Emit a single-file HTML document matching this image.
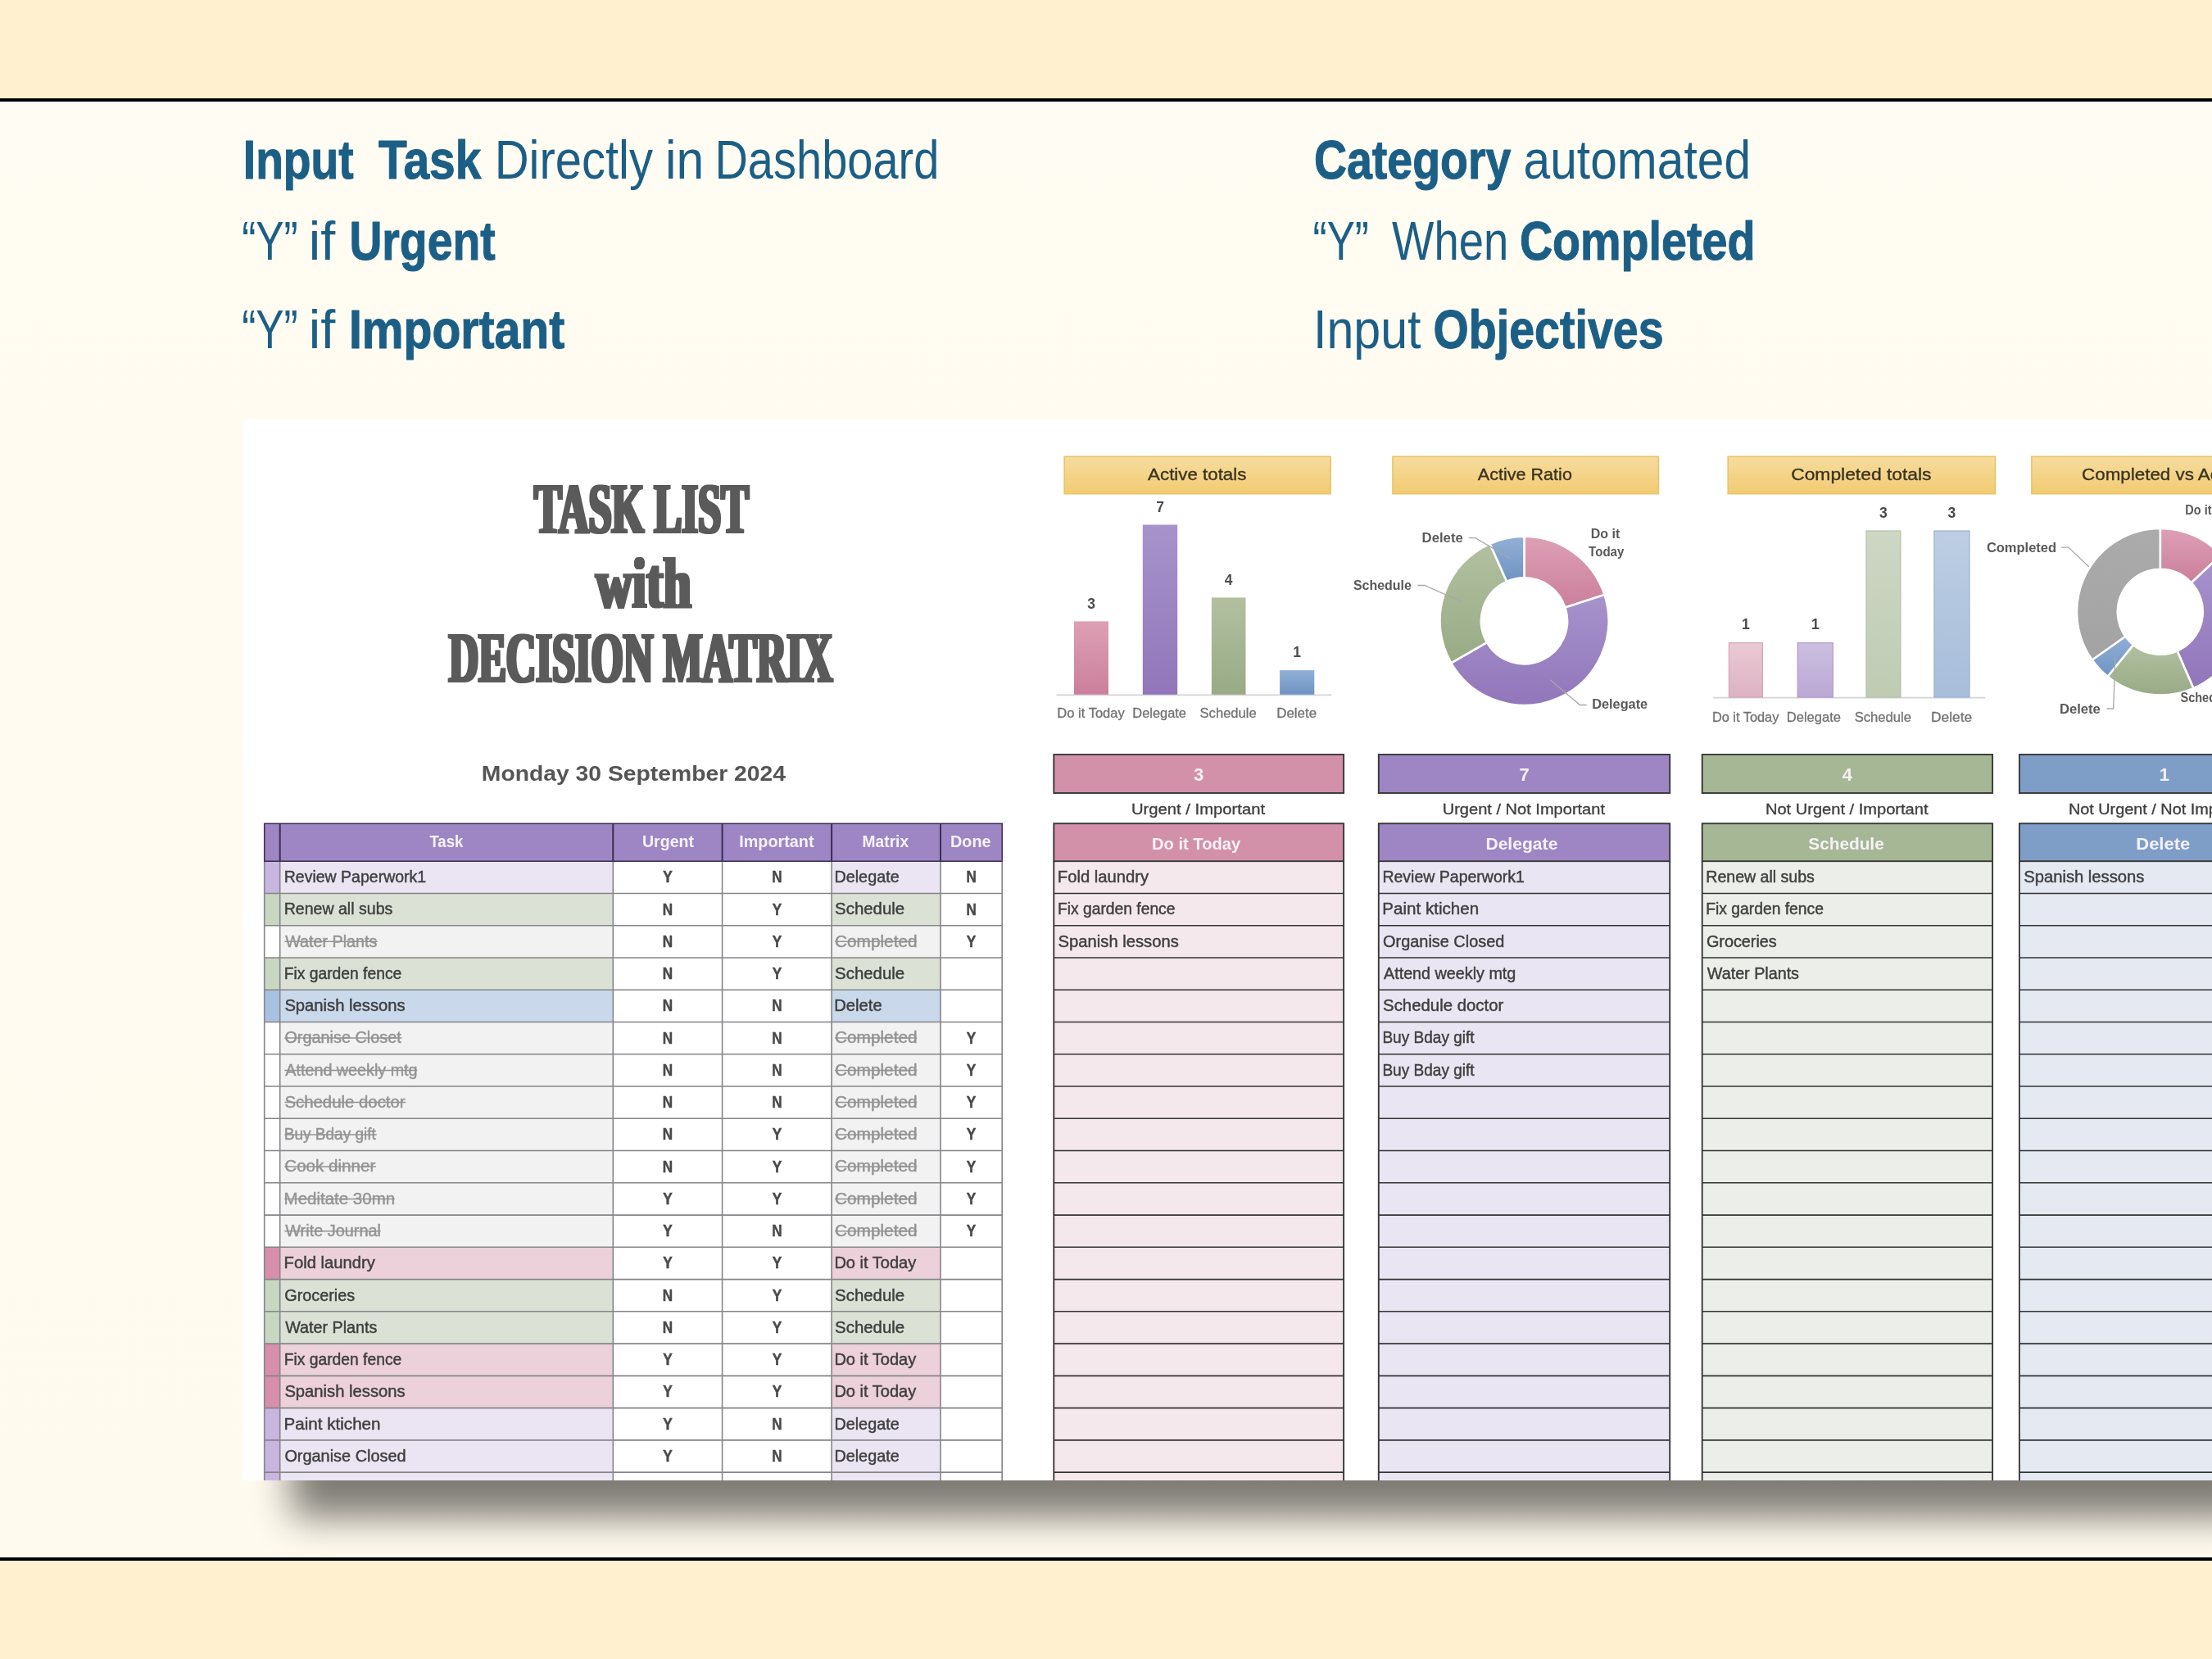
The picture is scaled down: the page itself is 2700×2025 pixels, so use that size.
<!DOCTYPE html>
<html lang="en"><head><meta charset="utf-8"><title>Task List with Decision Matrix</title>
<style>
html,body{margin:0;padding:0}
body{width:2700px;height:2025px;overflow:hidden;position:relative;background:#FFF1CF;font-family:"Liberation Sans",sans-serif}
.mid{position:absolute;left:0;top:120px;width:2700px;height:1785px;box-sizing:border-box;border-top:4px solid #000;border-bottom:4px solid #000;
background:linear-gradient(#FFFCF3,#FFFBF0 30%,#FFFAEE)}
.shclip{position:absolute;left:0;top:1807px;width:2700px;height:94px;overflow:hidden}
.shadow{position:absolute;left:356px;top:-400px;width:2600px;height:445px;background:rgba(0,0,0,.51);filter:blur(23px)}
.sheet{position:absolute;left:296px;top:512px;width:2404px;height:1295px;background:#fff;overflow:hidden}
svg{position:absolute;left:0;top:0;display:block}
.sheet svg{left:-296px;top:-512px;filter:blur(.65px)}
text{white-space:pre}
</style></head>
<body>
<div class="mid"></div>
<svg width="2700" height="2025" viewBox="0 0 2700 2025" xml:space="preserve">
<text x="296.8" y="217.5" font-family="Liberation Sans, sans-serif" font-size="66" font-weight="bold" fill="#1C5F86" text-anchor="start" textLength="134.8" lengthAdjust="spacingAndGlyphs" stroke="#1C5F86" stroke-width="1.1" stroke-linejoin="round">Input</text>
<text x="461.9" y="217.5" font-family="Liberation Sans, sans-serif" font-size="66" font-weight="bold" fill="#1C5F86" text-anchor="start" textLength="125.4" lengthAdjust="spacingAndGlyphs" stroke="#1C5F86" stroke-width="1.1" stroke-linejoin="round">Task</text>
<text x="603.7" y="217.5" font-family="Liberation Sans, sans-serif" font-size="66" fill="#1C5F86" text-anchor="start" textLength="193.3" lengthAdjust="spacingAndGlyphs" >Directly</text>
<text x="812.0" y="217.5" font-family="Liberation Sans, sans-serif" font-size="66" fill="#1C5F86" text-anchor="start" textLength="47.2" lengthAdjust="spacingAndGlyphs" >in</text>
<text x="872.4" y="217.5" font-family="Liberation Sans, sans-serif" font-size="66" fill="#1C5F86" text-anchor="start" textLength="274.0" lengthAdjust="spacingAndGlyphs" >Dashboard</text>
<text x="295.2" y="316.5" font-family="Liberation Sans, sans-serif" font-size="66" fill="#1C5F86" text-anchor="start" textLength="68.5" lengthAdjust="spacingAndGlyphs" >“Y”</text>
<text x="376.7" y="316.5" font-family="Liberation Sans, sans-serif" font-size="66" fill="#1C5F86" text-anchor="start" textLength="32.5" lengthAdjust="spacingAndGlyphs" >if</text>
<text x="426.4" y="316.5" font-family="Liberation Sans, sans-serif" font-size="66" font-weight="bold" fill="#1C5F86" text-anchor="start" textLength="178.2" lengthAdjust="spacingAndGlyphs" stroke="#1C5F86" stroke-width="1.1" stroke-linejoin="round">Urgent</text>
<text x="295.2" y="424.5" font-family="Liberation Sans, sans-serif" font-size="66" fill="#1C5F86" text-anchor="start" textLength="68.5" lengthAdjust="spacingAndGlyphs" >“Y”</text>
<text x="376.7" y="424.5" font-family="Liberation Sans, sans-serif" font-size="66" fill="#1C5F86" text-anchor="start" textLength="32.5" lengthAdjust="spacingAndGlyphs" >if</text>
<text x="425.9" y="424.5" font-family="Liberation Sans, sans-serif" font-size="66" font-weight="bold" fill="#1C5F86" text-anchor="start" textLength="263.3" lengthAdjust="spacingAndGlyphs" stroke="#1C5F86" stroke-width="1.1" stroke-linejoin="round">Important</text>
<text x="1604.0" y="217.8" font-family="Liberation Sans, sans-serif" font-size="66" font-weight="bold" fill="#1C5F86" text-anchor="start" textLength="240.3" lengthAdjust="spacingAndGlyphs" stroke="#1C5F86" stroke-width="1.1" stroke-linejoin="round">Category</text>
<text x="1859.5" y="217.8" font-family="Liberation Sans, sans-serif" font-size="66" fill="#1C5F86" text-anchor="start" textLength="277.6" lengthAdjust="spacingAndGlyphs" >automated</text>
<text x="1602.6" y="317.0" font-family="Liberation Sans, sans-serif" font-size="66" fill="#1C5F86" text-anchor="start" textLength="68.3" lengthAdjust="spacingAndGlyphs" >“Y”</text>
<text x="1699.1" y="317.0" font-family="Liberation Sans, sans-serif" font-size="66" fill="#1C5F86" text-anchor="start" textLength="142.1" lengthAdjust="spacingAndGlyphs" >When</text>
<text x="1854.9" y="317.0" font-family="Liberation Sans, sans-serif" font-size="66" font-weight="bold" fill="#1C5F86" text-anchor="start" textLength="287.6" lengthAdjust="spacingAndGlyphs" stroke="#1C5F86" stroke-width="1.1" stroke-linejoin="round">Completed</text>
<text x="1603.1" y="424.5" font-family="Liberation Sans, sans-serif" font-size="66" fill="#1C5F86" text-anchor="start" textLength="131.4" lengthAdjust="spacingAndGlyphs" >Input</text>
<text x="1749.6" y="424.5" font-family="Liberation Sans, sans-serif" font-size="66" font-weight="bold" fill="#1C5F86" text-anchor="start" textLength="281.0" lengthAdjust="spacingAndGlyphs" stroke="#1C5F86" stroke-width="1.1" stroke-linejoin="round">Objectives</text>
</svg>
<div class="shclip"><div class="shadow"></div></div>
<div class="sheet">
<svg width="2700" height="2025" viewBox="0 0 2700 2025" xml:space="preserve">
<defs>
<linearGradient id="gY" x1="0" y1="0" x2="0" y2="1"><stop offset="0" stop-color="#F6DC9F"/><stop offset="1" stop-color="#F2CB72"/></linearGradient>
<linearGradient id="gP" x1="0" y1="0" x2="0" y2="1"><stop offset="0" stop-color="#DDA0B5"/><stop offset="1" stop-color="#CB7F9B"/></linearGradient>
<linearGradient id="gU" x1="0" y1="0" x2="0" y2="1"><stop offset="0" stop-color="#A793CC"/><stop offset="1" stop-color="#9176BA"/></linearGradient>
<linearGradient id="gG" x1="0" y1="0" x2="0" y2="1"><stop offset="0" stop-color="#B2C0A0"/><stop offset="1" stop-color="#98AB85"/></linearGradient>
<linearGradient id="gB" x1="0" y1="0" x2="0" y2="1"><stop offset="0" stop-color="#92B0D6"/><stop offset="1" stop-color="#6E93C3"/></linearGradient>
<linearGradient id="gGr" x1="0" y1="0" x2="0" y2="1"><stop offset="0" stop-color="#ABABAB"/><stop offset="1" stop-color="#A3A3A3"/></linearGradient>
<linearGradient id="lP" x1="0" y1="0" x2="0" y2="1"><stop offset="0" stop-color="#E9CAD5"/><stop offset="1" stop-color="#DEB2C2"/></linearGradient>
<linearGradient id="lU" x1="0" y1="0" x2="0" y2="1"><stop offset="0" stop-color="#CCBFE0"/><stop offset="1" stop-color="#BBA8D5"/></linearGradient>
<linearGradient id="lG" x1="0" y1="0" x2="0" y2="1"><stop offset="0" stop-color="#CED7C4"/><stop offset="1" stop-color="#BFCBB3"/></linearGradient>
<linearGradient id="lB" x1="0" y1="0" x2="0" y2="1"><stop offset="0" stop-color="#BDCEE4"/><stop offset="1" stop-color="#A7BDDA"/></linearGradient>
<filter id="fat" x="-5%" y="-20%" width="110%" height="140%"><feMorphology operator="dilate" radius="2 1"/></filter>
</defs>
<text x="651.9" y="650.0" font-family="Liberation Serif, serif" font-size="87" font-weight="bold" fill="#5A5A5A" text-anchor="start" textLength="262.0" lengthAdjust="spacingAndGlyphs" filter="url(#fat)">TASK LIST</text>
<text x="727.2" y="740.5" font-family="Liberation Serif, serif" font-size="87" font-weight="bold" fill="#5A5A5A" text-anchor="start" textLength="116.7" lengthAdjust="spacingAndGlyphs" filter="url(#fat)">with</text>
<text x="547.8" y="832.3" font-family="Liberation Serif, serif" font-size="87" font-weight="bold" fill="#5A5A5A" text-anchor="start" textLength="468.5" lengthAdjust="spacingAndGlyphs" filter="url(#fat)">DECISION MATRIX</text>
<text x="587.8" y="953.4" font-family="Liberation Sans, sans-serif" font-size="25.8" font-weight="bold" fill="#555555" text-anchor="start" textLength="371.3" lengthAdjust="spacingAndGlyphs" >Monday 30 September 2024</text>
<rect x="322.7" y="1051.2" width="19.0" height="39.3" fill="#C6B6E0" />
<rect x="341.7" y="1051.2" width="406.6" height="39.3" fill="#EBE5F3" />
<rect x="1015.1" y="1051.2" width="132.9" height="39.3" fill="#EBE5F3" />
<rect x="322.7" y="1090.5" width="19.0" height="39.3" fill="#C9D6C0" />
<rect x="341.7" y="1090.5" width="406.6" height="39.3" fill="#DBE2D5" />
<rect x="1015.1" y="1090.5" width="132.9" height="39.3" fill="#DBE2D5" />
<rect x="322.7" y="1129.7" width="19.0" height="39.3" fill="#FFFFFF" />
<rect x="341.7" y="1129.7" width="406.6" height="39.3" fill="#F2F2F2" />
<rect x="1015.1" y="1129.7" width="132.9" height="39.3" fill="#F2F2F2" />
<rect x="322.7" y="1169.0" width="19.0" height="39.3" fill="#C9D6C0" />
<rect x="341.7" y="1169.0" width="406.6" height="39.3" fill="#DBE2D5" />
<rect x="1015.1" y="1169.0" width="132.9" height="39.3" fill="#DBE2D5" />
<rect x="322.7" y="1208.2" width="19.0" height="39.3" fill="#A9C2E1" />
<rect x="341.7" y="1208.2" width="406.6" height="39.3" fill="#C9D8EA" />
<rect x="1015.1" y="1208.2" width="132.9" height="39.3" fill="#C9D8EA" />
<rect x="322.7" y="1247.5" width="19.0" height="39.3" fill="#FFFFFF" />
<rect x="341.7" y="1247.5" width="406.6" height="39.3" fill="#F2F2F2" />
<rect x="1015.1" y="1247.5" width="132.9" height="39.3" fill="#F2F2F2" />
<rect x="322.7" y="1286.8" width="19.0" height="39.3" fill="#FFFFFF" />
<rect x="341.7" y="1286.8" width="406.6" height="39.3" fill="#F2F2F2" />
<rect x="1015.1" y="1286.8" width="132.9" height="39.3" fill="#F2F2F2" />
<rect x="322.7" y="1326.0" width="19.0" height="39.3" fill="#FFFFFF" />
<rect x="341.7" y="1326.0" width="406.6" height="39.3" fill="#F2F2F2" />
<rect x="1015.1" y="1326.0" width="132.9" height="39.3" fill="#F2F2F2" />
<rect x="322.7" y="1365.3" width="19.0" height="39.3" fill="#FFFFFF" />
<rect x="341.7" y="1365.3" width="406.6" height="39.3" fill="#F2F2F2" />
<rect x="1015.1" y="1365.3" width="132.9" height="39.3" fill="#F2F2F2" />
<rect x="322.7" y="1404.5" width="19.0" height="39.3" fill="#FFFFFF" />
<rect x="341.7" y="1404.5" width="406.6" height="39.3" fill="#F2F2F2" />
<rect x="1015.1" y="1404.5" width="132.9" height="39.3" fill="#F2F2F2" />
<rect x="322.7" y="1443.8" width="19.0" height="39.3" fill="#FFFFFF" />
<rect x="341.7" y="1443.8" width="406.6" height="39.3" fill="#F2F2F2" />
<rect x="1015.1" y="1443.8" width="132.9" height="39.3" fill="#F2F2F2" />
<rect x="322.7" y="1483.1" width="19.0" height="39.3" fill="#FFFFFF" />
<rect x="341.7" y="1483.1" width="406.6" height="39.3" fill="#F2F2F2" />
<rect x="1015.1" y="1483.1" width="132.9" height="39.3" fill="#F2F2F2" />
<rect x="322.7" y="1522.3" width="19.0" height="39.3" fill="#D88FA9" />
<rect x="341.7" y="1522.3" width="406.6" height="39.3" fill="#ECD0DA" />
<rect x="1015.1" y="1522.3" width="132.9" height="39.3" fill="#ECD0DA" />
<rect x="322.7" y="1561.6" width="19.0" height="39.3" fill="#C9D6C0" />
<rect x="341.7" y="1561.6" width="406.6" height="39.3" fill="#DBE2D5" />
<rect x="1015.1" y="1561.6" width="132.9" height="39.3" fill="#DBE2D5" />
<rect x="322.7" y="1600.8" width="19.0" height="39.3" fill="#C9D6C0" />
<rect x="341.7" y="1600.8" width="406.6" height="39.3" fill="#DBE2D5" />
<rect x="1015.1" y="1600.8" width="132.9" height="39.3" fill="#DBE2D5" />
<rect x="322.7" y="1640.1" width="19.0" height="39.3" fill="#D88FA9" />
<rect x="341.7" y="1640.1" width="406.6" height="39.3" fill="#ECD0DA" />
<rect x="1015.1" y="1640.1" width="132.9" height="39.3" fill="#ECD0DA" />
<rect x="322.7" y="1679.4" width="19.0" height="39.3" fill="#D88FA9" />
<rect x="341.7" y="1679.4" width="406.6" height="39.3" fill="#ECD0DA" />
<rect x="1015.1" y="1679.4" width="132.9" height="39.3" fill="#ECD0DA" />
<rect x="322.7" y="1718.6" width="19.0" height="39.3" fill="#C6B6E0" />
<rect x="341.7" y="1718.6" width="406.6" height="39.3" fill="#EBE5F3" />
<rect x="1015.1" y="1718.6" width="132.9" height="39.3" fill="#EBE5F3" />
<rect x="322.7" y="1757.9" width="19.0" height="39.3" fill="#C6B6E0" />
<rect x="341.7" y="1757.9" width="406.6" height="39.3" fill="#EBE5F3" />
<rect x="1015.1" y="1757.9" width="132.9" height="39.3" fill="#EBE5F3" />
<rect x="322.7" y="1797.1" width="19.0" height="39.3" fill="#C6B6E0" />
<rect x="341.7" y="1797.1" width="406.6" height="39.3" fill="#EBE5F3" />
<rect x="1015.1" y="1797.1" width="132.9" height="39.3" fill="#EBE5F3" />
<rect x="322.7" y="1836.4" width="19.0" height="39.3" fill="#C6B6E0" />
<rect x="341.7" y="1836.4" width="406.6" height="39.3" fill="#EBE5F3" />
<rect x="1015.1" y="1836.4" width="132.9" height="39.3" fill="#EBE5F3" />
<line x1="322.7" y1="1051.2" x2="1223.2" y2="1051.2" stroke="#85858A" stroke-width="1.6" />
<line x1="322.7" y1="1090.5" x2="1223.2" y2="1090.5" stroke="#85858A" stroke-width="1.6" />
<line x1="322.7" y1="1129.7" x2="1223.2" y2="1129.7" stroke="#85858A" stroke-width="1.6" />
<line x1="322.7" y1="1169.0" x2="1223.2" y2="1169.0" stroke="#85858A" stroke-width="1.6" />
<line x1="322.7" y1="1208.2" x2="1223.2" y2="1208.2" stroke="#85858A" stroke-width="1.6" />
<line x1="322.7" y1="1247.5" x2="1223.2" y2="1247.5" stroke="#85858A" stroke-width="1.6" />
<line x1="322.7" y1="1286.8" x2="1223.2" y2="1286.8" stroke="#85858A" stroke-width="1.6" />
<line x1="322.7" y1="1326.0" x2="1223.2" y2="1326.0" stroke="#85858A" stroke-width="1.6" />
<line x1="322.7" y1="1365.3" x2="1223.2" y2="1365.3" stroke="#85858A" stroke-width="1.6" />
<line x1="322.7" y1="1404.5" x2="1223.2" y2="1404.5" stroke="#85858A" stroke-width="1.6" />
<line x1="322.7" y1="1443.8" x2="1223.2" y2="1443.8" stroke="#85858A" stroke-width="1.6" />
<line x1="322.7" y1="1483.1" x2="1223.2" y2="1483.1" stroke="#85858A" stroke-width="1.6" />
<line x1="322.7" y1="1522.3" x2="1223.2" y2="1522.3" stroke="#85858A" stroke-width="1.6" />
<line x1="322.7" y1="1561.6" x2="1223.2" y2="1561.6" stroke="#85858A" stroke-width="1.6" />
<line x1="322.7" y1="1600.8" x2="1223.2" y2="1600.8" stroke="#85858A" stroke-width="1.6" />
<line x1="322.7" y1="1640.1" x2="1223.2" y2="1640.1" stroke="#85858A" stroke-width="1.6" />
<line x1="322.7" y1="1679.4" x2="1223.2" y2="1679.4" stroke="#85858A" stroke-width="1.6" />
<line x1="322.7" y1="1718.6" x2="1223.2" y2="1718.6" stroke="#85858A" stroke-width="1.6" />
<line x1="322.7" y1="1757.9" x2="1223.2" y2="1757.9" stroke="#85858A" stroke-width="1.6" />
<line x1="322.7" y1="1797.1" x2="1223.2" y2="1797.1" stroke="#85858A" stroke-width="1.6" />
<line x1="322.7" y1="1836.4" x2="1223.2" y2="1836.4" stroke="#85858A" stroke-width="1.6" />
<line x1="322.7" y1="1875.7" x2="1223.2" y2="1875.7" stroke="#85858A" stroke-width="1.6" />
<line x1="322.7" y1="1051.2" x2="322.7" y2="1875.7" stroke="#85858A" stroke-width="1.6" />
<line x1="341.7" y1="1051.2" x2="341.7" y2="1875.7" stroke="#85858A" stroke-width="1.6" />
<line x1="748.3" y1="1051.2" x2="748.3" y2="1875.7" stroke="#85858A" stroke-width="1.6" />
<line x1="881.6" y1="1051.2" x2="881.6" y2="1875.7" stroke="#85858A" stroke-width="1.6" />
<line x1="1015.1" y1="1051.2" x2="1015.1" y2="1875.7" stroke="#85858A" stroke-width="1.6" />
<line x1="1148.0" y1="1051.2" x2="1148.0" y2="1875.7" stroke="#85858A" stroke-width="1.6" />
<line x1="1223.2" y1="1051.2" x2="1223.2" y2="1875.7" stroke="#85858A" stroke-width="1.6" />
<rect x="322.7" y="1005.3" width="900.5" height="45.9" fill="#9E86C4" stroke="#3A2C55" stroke-width="1.5" />
<line x1="341.7" y1="1005.3" x2="341.7" y2="1051.2" stroke="#3A2C55" stroke-width="2.0" />
<line x1="748.3" y1="1005.3" x2="748.3" y2="1051.2" stroke="#3A2C55" stroke-width="2.0" />
<line x1="881.6" y1="1005.3" x2="881.6" y2="1051.2" stroke="#3A2C55" stroke-width="2.0" />
<line x1="1015.1" y1="1005.3" x2="1015.1" y2="1051.2" stroke="#3A2C55" stroke-width="2.0" />
<line x1="1148.0" y1="1005.3" x2="1148.0" y2="1051.2" stroke="#3A2C55" stroke-width="2.0" />
<text x="524.4" y="1034.2" font-family="Liberation Sans, sans-serif" font-size="20" font-weight="bold" fill="#F6F2FB" text-anchor="start" textLength="41.0" lengthAdjust="spacingAndGlyphs" >Task</text>
<text x="784.0" y="1034.2" font-family="Liberation Sans, sans-serif" font-size="20" font-weight="bold" fill="#F6F2FB" text-anchor="start" textLength="63.0" lengthAdjust="spacingAndGlyphs" >Urgent</text>
<text x="902.2" y="1034.2" font-family="Liberation Sans, sans-serif" font-size="20" font-weight="bold" fill="#F6F2FB" text-anchor="start" textLength="91.3" lengthAdjust="spacingAndGlyphs" >Important</text>
<text x="1052.6" y="1034.2" font-family="Liberation Sans, sans-serif" font-size="20" font-weight="bold" fill="#F6F2FB" text-anchor="start" textLength="56.5" lengthAdjust="spacingAndGlyphs" >Matrix</text>
<text x="1160.1" y="1034.2" font-family="Liberation Sans, sans-serif" font-size="20" font-weight="bold" fill="#F6F2FB" text-anchor="start" textLength="49.4" lengthAdjust="spacingAndGlyphs" >Done</text>
<text x="346.7" y="1077.1" font-family="Liberation Sans, sans-serif" font-size="20" fill="#3F3F3F" text-anchor="start" textLength="173.5" lengthAdjust="spacingAndGlyphs" stroke="#3F3F3F" stroke-width="0.45">Review Paperwork1</text>
<text x="815.0" y="1077.2" font-family="Liberation Sans, sans-serif" font-size="20" font-weight="bold" fill="#4A4A4A" text-anchor="middle" textLength="11.5" lengthAdjust="spacingAndGlyphs" stroke="#4A4A4A" stroke-width="0.5">Y</text>
<text x="948.4" y="1077.2" font-family="Liberation Sans, sans-serif" font-size="20" font-weight="bold" fill="#4A4A4A" text-anchor="middle" textLength="12.4" lengthAdjust="spacingAndGlyphs" stroke="#4A4A4A" stroke-width="0.5">N</text>
<text x="1018.4" y="1077.1" font-family="Liberation Sans, sans-serif" font-size="20" fill="#3F3F3F" text-anchor="start" textLength="79.3" lengthAdjust="spacingAndGlyphs" stroke="#3F3F3F" stroke-width="0.45">Delegate</text>
<text x="1185.6" y="1077.2" font-family="Liberation Sans, sans-serif" font-size="20" font-weight="bold" fill="#4A4A4A" text-anchor="middle" textLength="12.4" lengthAdjust="spacingAndGlyphs" stroke="#4A4A4A" stroke-width="0.5">N</text>
<text x="346.7" y="1116.4" font-family="Liberation Sans, sans-serif" font-size="20" fill="#3F3F3F" text-anchor="start" textLength="132.6" lengthAdjust="spacingAndGlyphs" stroke="#3F3F3F" stroke-width="0.45">Renew all subs</text>
<text x="815.0" y="1116.5" font-family="Liberation Sans, sans-serif" font-size="20" font-weight="bold" fill="#4A4A4A" text-anchor="middle" textLength="12.4" lengthAdjust="spacingAndGlyphs" stroke="#4A4A4A" stroke-width="0.5">N</text>
<text x="948.4" y="1116.5" font-family="Liberation Sans, sans-serif" font-size="20" font-weight="bold" fill="#4A4A4A" text-anchor="middle" textLength="11.5" lengthAdjust="spacingAndGlyphs" stroke="#4A4A4A" stroke-width="0.5">Y</text>
<text x="1019.1" y="1116.4" font-family="Liberation Sans, sans-serif" font-size="20" fill="#3F3F3F" text-anchor="start" textLength="85.1" lengthAdjust="spacingAndGlyphs" stroke="#3F3F3F" stroke-width="0.45">Schedule</text>
<text x="1185.6" y="1116.5" font-family="Liberation Sans, sans-serif" font-size="20" font-weight="bold" fill="#4A4A4A" text-anchor="middle" textLength="12.4" lengthAdjust="spacingAndGlyphs" stroke="#4A4A4A" stroke-width="0.5">N</text>
<text x="348.2" y="1155.6" font-family="Liberation Sans, sans-serif" font-size="20" fill="#939393" text-anchor="start" textLength="112.2" lengthAdjust="spacingAndGlyphs" stroke="#939393" stroke-width="0.45">Water Plants</text>
<line x1="347.3" y1="1149.3" x2="460.7" y2="1149.3" stroke="#939393" stroke-width="1.5" />
<text x="815.0" y="1155.7" font-family="Liberation Sans, sans-serif" font-size="20" font-weight="bold" fill="#4A4A4A" text-anchor="middle" textLength="12.4" lengthAdjust="spacingAndGlyphs" stroke="#4A4A4A" stroke-width="0.5">N</text>
<text x="948.4" y="1155.7" font-family="Liberation Sans, sans-serif" font-size="20" font-weight="bold" fill="#4A4A4A" text-anchor="middle" textLength="11.5" lengthAdjust="spacingAndGlyphs" stroke="#4A4A4A" stroke-width="0.5">Y</text>
<text x="1019.0" y="1155.6" font-family="Liberation Sans, sans-serif" font-size="20" fill="#939393" text-anchor="start" textLength="100.6" lengthAdjust="spacingAndGlyphs" stroke="#939393" stroke-width="0.45">Completed</text>
<line x1="1019.0" y1="1149.3" x2="1119.2" y2="1149.3" stroke="#939393" stroke-width="1.5" />
<text x="1185.6" y="1155.7" font-family="Liberation Sans, sans-serif" font-size="20" font-weight="bold" fill="#4A4A4A" text-anchor="middle" textLength="11.5" lengthAdjust="spacingAndGlyphs" stroke="#4A4A4A" stroke-width="0.5">Y</text>
<text x="346.7" y="1194.9" font-family="Liberation Sans, sans-serif" font-size="20" fill="#3F3F3F" text-anchor="start" textLength="143.6" lengthAdjust="spacingAndGlyphs" stroke="#3F3F3F" stroke-width="0.45">Fix garden fence</text>
<text x="815.0" y="1195.0" font-family="Liberation Sans, sans-serif" font-size="20" font-weight="bold" fill="#4A4A4A" text-anchor="middle" textLength="12.4" lengthAdjust="spacingAndGlyphs" stroke="#4A4A4A" stroke-width="0.5">N</text>
<text x="948.4" y="1195.0" font-family="Liberation Sans, sans-serif" font-size="20" font-weight="bold" fill="#4A4A4A" text-anchor="middle" textLength="11.5" lengthAdjust="spacingAndGlyphs" stroke="#4A4A4A" stroke-width="0.5">Y</text>
<text x="1019.1" y="1194.9" font-family="Liberation Sans, sans-serif" font-size="20" fill="#3F3F3F" text-anchor="start" textLength="85.1" lengthAdjust="spacingAndGlyphs" stroke="#3F3F3F" stroke-width="0.45">Schedule</text>
<text x="347.4" y="1234.1" font-family="Liberation Sans, sans-serif" font-size="20" fill="#3F3F3F" text-anchor="start" textLength="147.2" lengthAdjust="spacingAndGlyphs" stroke="#3F3F3F" stroke-width="0.45">Spanish lessons</text>
<text x="815.0" y="1234.2" font-family="Liberation Sans, sans-serif" font-size="20" font-weight="bold" fill="#4A4A4A" text-anchor="middle" textLength="12.4" lengthAdjust="spacingAndGlyphs" stroke="#4A4A4A" stroke-width="0.5">N</text>
<text x="948.4" y="1234.2" font-family="Liberation Sans, sans-serif" font-size="20" font-weight="bold" fill="#4A4A4A" text-anchor="middle" textLength="12.4" lengthAdjust="spacingAndGlyphs" stroke="#4A4A4A" stroke-width="0.5">N</text>
<text x="1018.3" y="1234.1" font-family="Liberation Sans, sans-serif" font-size="20" fill="#3F3F3F" text-anchor="start" textLength="58.3" lengthAdjust="spacingAndGlyphs" stroke="#3F3F3F" stroke-width="0.45">Delete</text>
<text x="347.4" y="1273.4" font-family="Liberation Sans, sans-serif" font-size="20" fill="#939393" text-anchor="start" textLength="142.3" lengthAdjust="spacingAndGlyphs" stroke="#939393" stroke-width="0.45">Organise Closet</text>
<line x1="347.3" y1="1267.1" x2="490.5" y2="1267.1" stroke="#939393" stroke-width="1.5" />
<text x="815.0" y="1273.5" font-family="Liberation Sans, sans-serif" font-size="20" font-weight="bold" fill="#4A4A4A" text-anchor="middle" textLength="12.4" lengthAdjust="spacingAndGlyphs" stroke="#4A4A4A" stroke-width="0.5">N</text>
<text x="948.4" y="1273.5" font-family="Liberation Sans, sans-serif" font-size="20" font-weight="bold" fill="#4A4A4A" text-anchor="middle" textLength="12.4" lengthAdjust="spacingAndGlyphs" stroke="#4A4A4A" stroke-width="0.5">N</text>
<text x="1019.0" y="1273.4" font-family="Liberation Sans, sans-serif" font-size="20" fill="#939393" text-anchor="start" textLength="100.6" lengthAdjust="spacingAndGlyphs" stroke="#939393" stroke-width="0.45">Completed</text>
<line x1="1019.0" y1="1267.1" x2="1119.2" y2="1267.1" stroke="#939393" stroke-width="1.5" />
<text x="1185.6" y="1273.5" font-family="Liberation Sans, sans-serif" font-size="20" font-weight="bold" fill="#4A4A4A" text-anchor="middle" textLength="11.5" lengthAdjust="spacingAndGlyphs" stroke="#4A4A4A" stroke-width="0.5">Y</text>
<text x="348.3" y="1312.7" font-family="Liberation Sans, sans-serif" font-size="20" fill="#939393" text-anchor="start" textLength="161.3" lengthAdjust="spacingAndGlyphs" stroke="#939393" stroke-width="0.45">Attend weekly mtg</text>
<line x1="347.3" y1="1306.4" x2="509.3" y2="1306.4" stroke="#939393" stroke-width="1.5" />
<text x="815.0" y="1312.8" font-family="Liberation Sans, sans-serif" font-size="20" font-weight="bold" fill="#4A4A4A" text-anchor="middle" textLength="12.4" lengthAdjust="spacingAndGlyphs" stroke="#4A4A4A" stroke-width="0.5">N</text>
<text x="948.4" y="1312.8" font-family="Liberation Sans, sans-serif" font-size="20" font-weight="bold" fill="#4A4A4A" text-anchor="middle" textLength="12.4" lengthAdjust="spacingAndGlyphs" stroke="#4A4A4A" stroke-width="0.5">N</text>
<text x="1019.0" y="1312.7" font-family="Liberation Sans, sans-serif" font-size="20" fill="#939393" text-anchor="start" textLength="100.6" lengthAdjust="spacingAndGlyphs" stroke="#939393" stroke-width="0.45">Completed</text>
<line x1="1019.0" y1="1306.4" x2="1119.2" y2="1306.4" stroke="#939393" stroke-width="1.5" />
<text x="1185.6" y="1312.8" font-family="Liberation Sans, sans-serif" font-size="20" font-weight="bold" fill="#4A4A4A" text-anchor="middle" textLength="11.5" lengthAdjust="spacingAndGlyphs" stroke="#4A4A4A" stroke-width="0.5">Y</text>
<text x="347.4" y="1351.9" font-family="Liberation Sans, sans-serif" font-size="20" fill="#939393" text-anchor="start" textLength="147.2" lengthAdjust="spacingAndGlyphs" stroke="#939393" stroke-width="0.45">Schedule doctor</text>
<line x1="347.3" y1="1345.6" x2="495.3" y2="1345.6" stroke="#939393" stroke-width="1.5" />
<text x="815.0" y="1352.0" font-family="Liberation Sans, sans-serif" font-size="20" font-weight="bold" fill="#4A4A4A" text-anchor="middle" textLength="12.4" lengthAdjust="spacingAndGlyphs" stroke="#4A4A4A" stroke-width="0.5">N</text>
<text x="948.4" y="1352.0" font-family="Liberation Sans, sans-serif" font-size="20" font-weight="bold" fill="#4A4A4A" text-anchor="middle" textLength="12.4" lengthAdjust="spacingAndGlyphs" stroke="#4A4A4A" stroke-width="0.5">N</text>
<text x="1019.0" y="1351.9" font-family="Liberation Sans, sans-serif" font-size="20" fill="#939393" text-anchor="start" textLength="100.6" lengthAdjust="spacingAndGlyphs" stroke="#939393" stroke-width="0.45">Completed</text>
<line x1="1019.0" y1="1345.6" x2="1119.2" y2="1345.6" stroke="#939393" stroke-width="1.5" />
<text x="1185.6" y="1352.0" font-family="Liberation Sans, sans-serif" font-size="20" font-weight="bold" fill="#4A4A4A" text-anchor="middle" textLength="11.5" lengthAdjust="spacingAndGlyphs" stroke="#4A4A4A" stroke-width="0.5">Y</text>
<text x="346.7" y="1391.2" font-family="Liberation Sans, sans-serif" font-size="20" fill="#939393" text-anchor="start" textLength="112.2" lengthAdjust="spacingAndGlyphs" stroke="#939393" stroke-width="0.45">Buy Bday gift</text>
<line x1="347.3" y1="1384.9" x2="459.8" y2="1384.9" stroke="#939393" stroke-width="1.5" />
<text x="815.0" y="1391.3" font-family="Liberation Sans, sans-serif" font-size="20" font-weight="bold" fill="#4A4A4A" text-anchor="middle" textLength="12.4" lengthAdjust="spacingAndGlyphs" stroke="#4A4A4A" stroke-width="0.5">N</text>
<text x="948.4" y="1391.3" font-family="Liberation Sans, sans-serif" font-size="20" font-weight="bold" fill="#4A4A4A" text-anchor="middle" textLength="11.5" lengthAdjust="spacingAndGlyphs" stroke="#4A4A4A" stroke-width="0.5">Y</text>
<text x="1019.0" y="1391.2" font-family="Liberation Sans, sans-serif" font-size="20" fill="#939393" text-anchor="start" textLength="100.6" lengthAdjust="spacingAndGlyphs" stroke="#939393" stroke-width="0.45">Completed</text>
<line x1="1019.0" y1="1384.9" x2="1119.2" y2="1384.9" stroke="#939393" stroke-width="1.5" />
<text x="1185.6" y="1391.3" font-family="Liberation Sans, sans-serif" font-size="20" font-weight="bold" fill="#4A4A4A" text-anchor="middle" textLength="11.5" lengthAdjust="spacingAndGlyphs" stroke="#4A4A4A" stroke-width="0.5">Y</text>
<text x="347.3" y="1430.4" font-family="Liberation Sans, sans-serif" font-size="20" fill="#939393" text-anchor="start" textLength="111.0" lengthAdjust="spacingAndGlyphs" stroke="#939393" stroke-width="0.45">Cook dinner</text>
<line x1="347.3" y1="1424.1" x2="458.9" y2="1424.1" stroke="#939393" stroke-width="1.5" />
<text x="815.0" y="1430.5" font-family="Liberation Sans, sans-serif" font-size="20" font-weight="bold" fill="#4A4A4A" text-anchor="middle" textLength="12.4" lengthAdjust="spacingAndGlyphs" stroke="#4A4A4A" stroke-width="0.5">N</text>
<text x="948.4" y="1430.5" font-family="Liberation Sans, sans-serif" font-size="20" font-weight="bold" fill="#4A4A4A" text-anchor="middle" textLength="11.5" lengthAdjust="spacingAndGlyphs" stroke="#4A4A4A" stroke-width="0.5">Y</text>
<text x="1019.0" y="1430.4" font-family="Liberation Sans, sans-serif" font-size="20" fill="#939393" text-anchor="start" textLength="100.6" lengthAdjust="spacingAndGlyphs" stroke="#939393" stroke-width="0.45">Completed</text>
<line x1="1019.0" y1="1424.1" x2="1119.2" y2="1424.1" stroke="#939393" stroke-width="1.5" />
<text x="1185.6" y="1430.5" font-family="Liberation Sans, sans-serif" font-size="20" font-weight="bold" fill="#4A4A4A" text-anchor="middle" textLength="11.5" lengthAdjust="spacingAndGlyphs" stroke="#4A4A4A" stroke-width="0.5">Y</text>
<text x="346.6" y="1469.7" font-family="Liberation Sans, sans-serif" font-size="20" fill="#939393" text-anchor="start" textLength="135.5" lengthAdjust="spacingAndGlyphs" stroke="#939393" stroke-width="0.45">Meditate 30mn</text>
<line x1="347.3" y1="1463.4" x2="481.8" y2="1463.4" stroke="#939393" stroke-width="1.5" />
<text x="815.0" y="1469.8" font-family="Liberation Sans, sans-serif" font-size="20" font-weight="bold" fill="#4A4A4A" text-anchor="middle" textLength="11.5" lengthAdjust="spacingAndGlyphs" stroke="#4A4A4A" stroke-width="0.5">Y</text>
<text x="948.4" y="1469.8" font-family="Liberation Sans, sans-serif" font-size="20" font-weight="bold" fill="#4A4A4A" text-anchor="middle" textLength="11.5" lengthAdjust="spacingAndGlyphs" stroke="#4A4A4A" stroke-width="0.5">Y</text>
<text x="1019.0" y="1469.7" font-family="Liberation Sans, sans-serif" font-size="20" fill="#939393" text-anchor="start" textLength="100.6" lengthAdjust="spacingAndGlyphs" stroke="#939393" stroke-width="0.45">Completed</text>
<line x1="1019.0" y1="1463.4" x2="1119.2" y2="1463.4" stroke="#939393" stroke-width="1.5" />
<text x="1185.6" y="1469.8" font-family="Liberation Sans, sans-serif" font-size="20" font-weight="bold" fill="#4A4A4A" text-anchor="middle" textLength="11.5" lengthAdjust="spacingAndGlyphs" stroke="#4A4A4A" stroke-width="0.5">Y</text>
<text x="348.2" y="1509.0" font-family="Liberation Sans, sans-serif" font-size="20" fill="#939393" text-anchor="start" textLength="116.8" lengthAdjust="spacingAndGlyphs" stroke="#939393" stroke-width="0.45">Write Journal</text>
<line x1="347.3" y1="1502.7" x2="464.7" y2="1502.7" stroke="#939393" stroke-width="1.5" />
<text x="815.0" y="1509.1" font-family="Liberation Sans, sans-serif" font-size="20" font-weight="bold" fill="#4A4A4A" text-anchor="middle" textLength="11.5" lengthAdjust="spacingAndGlyphs" stroke="#4A4A4A" stroke-width="0.5">Y</text>
<text x="948.4" y="1509.1" font-family="Liberation Sans, sans-serif" font-size="20" font-weight="bold" fill="#4A4A4A" text-anchor="middle" textLength="12.4" lengthAdjust="spacingAndGlyphs" stroke="#4A4A4A" stroke-width="0.5">N</text>
<text x="1019.0" y="1509.0" font-family="Liberation Sans, sans-serif" font-size="20" fill="#939393" text-anchor="start" textLength="100.6" lengthAdjust="spacingAndGlyphs" stroke="#939393" stroke-width="0.45">Completed</text>
<line x1="1019.0" y1="1502.7" x2="1119.2" y2="1502.7" stroke="#939393" stroke-width="1.5" />
<text x="1185.6" y="1509.1" font-family="Liberation Sans, sans-serif" font-size="20" font-weight="bold" fill="#4A4A4A" text-anchor="middle" textLength="11.5" lengthAdjust="spacingAndGlyphs" stroke="#4A4A4A" stroke-width="0.5">Y</text>
<text x="346.6" y="1548.2" font-family="Liberation Sans, sans-serif" font-size="20" fill="#3F3F3F" text-anchor="start" textLength="111.3" lengthAdjust="spacingAndGlyphs" stroke="#3F3F3F" stroke-width="0.45">Fold laundry</text>
<text x="815.0" y="1548.3" font-family="Liberation Sans, sans-serif" font-size="20" font-weight="bold" fill="#4A4A4A" text-anchor="middle" textLength="11.5" lengthAdjust="spacingAndGlyphs" stroke="#4A4A4A" stroke-width="0.5">Y</text>
<text x="948.4" y="1548.3" font-family="Liberation Sans, sans-serif" font-size="20" font-weight="bold" fill="#4A4A4A" text-anchor="middle" textLength="11.5" lengthAdjust="spacingAndGlyphs" stroke="#4A4A4A" stroke-width="0.5">Y</text>
<text x="1018.4" y="1548.2" font-family="Liberation Sans, sans-serif" font-size="20" fill="#3F3F3F" text-anchor="start" textLength="99.9" lengthAdjust="spacingAndGlyphs" stroke="#3F3F3F" stroke-width="0.45">Do it Today</text>
<text x="347.3" y="1587.5" font-family="Liberation Sans, sans-serif" font-size="20" fill="#3F3F3F" text-anchor="start" textLength="85.9" lengthAdjust="spacingAndGlyphs" stroke="#3F3F3F" stroke-width="0.45">Groceries</text>
<text x="815.0" y="1587.6" font-family="Liberation Sans, sans-serif" font-size="20" font-weight="bold" fill="#4A4A4A" text-anchor="middle" textLength="12.4" lengthAdjust="spacingAndGlyphs" stroke="#4A4A4A" stroke-width="0.5">N</text>
<text x="948.4" y="1587.6" font-family="Liberation Sans, sans-serif" font-size="20" font-weight="bold" fill="#4A4A4A" text-anchor="middle" textLength="11.5" lengthAdjust="spacingAndGlyphs" stroke="#4A4A4A" stroke-width="0.5">Y</text>
<text x="1019.1" y="1587.5" font-family="Liberation Sans, sans-serif" font-size="20" fill="#3F3F3F" text-anchor="start" textLength="85.1" lengthAdjust="spacingAndGlyphs" stroke="#3F3F3F" stroke-width="0.45">Schedule</text>
<text x="348.2" y="1626.7" font-family="Liberation Sans, sans-serif" font-size="20" fill="#3F3F3F" text-anchor="start" textLength="112.2" lengthAdjust="spacingAndGlyphs" stroke="#3F3F3F" stroke-width="0.45">Water Plants</text>
<text x="815.0" y="1626.8" font-family="Liberation Sans, sans-serif" font-size="20" font-weight="bold" fill="#4A4A4A" text-anchor="middle" textLength="12.4" lengthAdjust="spacingAndGlyphs" stroke="#4A4A4A" stroke-width="0.5">N</text>
<text x="948.4" y="1626.8" font-family="Liberation Sans, sans-serif" font-size="20" font-weight="bold" fill="#4A4A4A" text-anchor="middle" textLength="11.5" lengthAdjust="spacingAndGlyphs" stroke="#4A4A4A" stroke-width="0.5">Y</text>
<text x="1019.1" y="1626.7" font-family="Liberation Sans, sans-serif" font-size="20" fill="#3F3F3F" text-anchor="start" textLength="85.1" lengthAdjust="spacingAndGlyphs" stroke="#3F3F3F" stroke-width="0.45">Schedule</text>
<text x="346.7" y="1666.0" font-family="Liberation Sans, sans-serif" font-size="20" fill="#3F3F3F" text-anchor="start" textLength="143.6" lengthAdjust="spacingAndGlyphs" stroke="#3F3F3F" stroke-width="0.45">Fix garden fence</text>
<text x="815.0" y="1666.1" font-family="Liberation Sans, sans-serif" font-size="20" font-weight="bold" fill="#4A4A4A" text-anchor="middle" textLength="11.5" lengthAdjust="spacingAndGlyphs" stroke="#4A4A4A" stroke-width="0.5">Y</text>
<text x="948.4" y="1666.1" font-family="Liberation Sans, sans-serif" font-size="20" font-weight="bold" fill="#4A4A4A" text-anchor="middle" textLength="11.5" lengthAdjust="spacingAndGlyphs" stroke="#4A4A4A" stroke-width="0.5">Y</text>
<text x="1018.4" y="1666.0" font-family="Liberation Sans, sans-serif" font-size="20" fill="#3F3F3F" text-anchor="start" textLength="99.9" lengthAdjust="spacingAndGlyphs" stroke="#3F3F3F" stroke-width="0.45">Do it Today</text>
<text x="347.4" y="1705.3" font-family="Liberation Sans, sans-serif" font-size="20" fill="#3F3F3F" text-anchor="start" textLength="147.2" lengthAdjust="spacingAndGlyphs" stroke="#3F3F3F" stroke-width="0.45">Spanish lessons</text>
<text x="815.0" y="1705.4" font-family="Liberation Sans, sans-serif" font-size="20" font-weight="bold" fill="#4A4A4A" text-anchor="middle" textLength="11.5" lengthAdjust="spacingAndGlyphs" stroke="#4A4A4A" stroke-width="0.5">Y</text>
<text x="948.4" y="1705.4" font-family="Liberation Sans, sans-serif" font-size="20" font-weight="bold" fill="#4A4A4A" text-anchor="middle" textLength="11.5" lengthAdjust="spacingAndGlyphs" stroke="#4A4A4A" stroke-width="0.5">Y</text>
<text x="1018.4" y="1705.3" font-family="Liberation Sans, sans-serif" font-size="20" fill="#3F3F3F" text-anchor="start" textLength="99.9" lengthAdjust="spacingAndGlyphs" stroke="#3F3F3F" stroke-width="0.45">Do it Today</text>
<text x="346.6" y="1744.5" font-family="Liberation Sans, sans-serif" font-size="20" fill="#3F3F3F" text-anchor="start" textLength="117.9" lengthAdjust="spacingAndGlyphs" stroke="#3F3F3F" stroke-width="0.45">Paint ktichen</text>
<text x="815.0" y="1744.6" font-family="Liberation Sans, sans-serif" font-size="20" font-weight="bold" fill="#4A4A4A" text-anchor="middle" textLength="11.5" lengthAdjust="spacingAndGlyphs" stroke="#4A4A4A" stroke-width="0.5">Y</text>
<text x="948.4" y="1744.6" font-family="Liberation Sans, sans-serif" font-size="20" font-weight="bold" fill="#4A4A4A" text-anchor="middle" textLength="12.4" lengthAdjust="spacingAndGlyphs" stroke="#4A4A4A" stroke-width="0.5">N</text>
<text x="1018.4" y="1744.5" font-family="Liberation Sans, sans-serif" font-size="20" fill="#3F3F3F" text-anchor="start" textLength="79.3" lengthAdjust="spacingAndGlyphs" stroke="#3F3F3F" stroke-width="0.45">Delegate</text>
<text x="347.4" y="1783.8" font-family="Liberation Sans, sans-serif" font-size="20" fill="#3F3F3F" text-anchor="start" textLength="148.2" lengthAdjust="spacingAndGlyphs" stroke="#3F3F3F" stroke-width="0.45">Organise Closed</text>
<text x="815.0" y="1783.9" font-family="Liberation Sans, sans-serif" font-size="20" font-weight="bold" fill="#4A4A4A" text-anchor="middle" textLength="11.5" lengthAdjust="spacingAndGlyphs" stroke="#4A4A4A" stroke-width="0.5">Y</text>
<text x="948.4" y="1783.9" font-family="Liberation Sans, sans-serif" font-size="20" font-weight="bold" fill="#4A4A4A" text-anchor="middle" textLength="12.4" lengthAdjust="spacingAndGlyphs" stroke="#4A4A4A" stroke-width="0.5">N</text>
<text x="1018.4" y="1783.8" font-family="Liberation Sans, sans-serif" font-size="20" fill="#3F3F3F" text-anchor="start" textLength="79.3" lengthAdjust="spacingAndGlyphs" stroke="#3F3F3F" stroke-width="0.45">Delegate</text>
<text x="348.3" y="1823.0" font-family="Liberation Sans, sans-serif" font-size="20" fill="#3F3F3F" text-anchor="start" textLength="161.3" lengthAdjust="spacingAndGlyphs" stroke="#3F3F3F" stroke-width="0.45">Attend weekly mtg</text>
<text x="815.0" y="1823.1" font-family="Liberation Sans, sans-serif" font-size="20" font-weight="bold" fill="#4A4A4A" text-anchor="middle" textLength="11.5" lengthAdjust="spacingAndGlyphs" stroke="#4A4A4A" stroke-width="0.5">Y</text>
<text x="948.4" y="1823.1" font-family="Liberation Sans, sans-serif" font-size="20" font-weight="bold" fill="#4A4A4A" text-anchor="middle" textLength="12.4" lengthAdjust="spacingAndGlyphs" stroke="#4A4A4A" stroke-width="0.5">N</text>
<text x="1018.4" y="1823.0" font-family="Liberation Sans, sans-serif" font-size="20" fill="#3F3F3F" text-anchor="start" textLength="79.3" lengthAdjust="spacingAndGlyphs" stroke="#3F3F3F" stroke-width="0.45">Delegate</text>
<rect x="1286.3" y="921.0" width="353.8" height="47.0" fill="#D391A9" stroke="#383838" stroke-width="1.9" />
<text x="1463.2" y="953.2" font-family="Liberation Sans, sans-serif" font-size="22" font-weight="bold" fill="#F4F0F6" text-anchor="middle" >3</text>
<text x="1381.0" y="993.8" font-family="Liberation Sans, sans-serif" font-size="19" fill="#3F3F3F" text-anchor="start" textLength="163.0" lengthAdjust="spacingAndGlyphs" stroke="#3F3F3F" stroke-width="0.35">Urgent / Important</text>
<rect x="1286.3" y="1051.2" width="353.8" height="785.2" fill="#F5E8EC" />
<line x1="1286.3" y1="1090.5" x2="1640.1" y2="1090.5" stroke="#333333" stroke-width="1.6" />
<line x1="1286.3" y1="1129.7" x2="1640.1" y2="1129.7" stroke="#333333" stroke-width="1.6" />
<line x1="1286.3" y1="1169.0" x2="1640.1" y2="1169.0" stroke="#333333" stroke-width="1.6" />
<line x1="1286.3" y1="1208.2" x2="1640.1" y2="1208.2" stroke="#333333" stroke-width="1.6" />
<line x1="1286.3" y1="1247.5" x2="1640.1" y2="1247.5" stroke="#333333" stroke-width="1.6" />
<line x1="1286.3" y1="1286.8" x2="1640.1" y2="1286.8" stroke="#333333" stroke-width="1.6" />
<line x1="1286.3" y1="1326.0" x2="1640.1" y2="1326.0" stroke="#333333" stroke-width="1.6" />
<line x1="1286.3" y1="1365.3" x2="1640.1" y2="1365.3" stroke="#333333" stroke-width="1.6" />
<line x1="1286.3" y1="1404.5" x2="1640.1" y2="1404.5" stroke="#333333" stroke-width="1.6" />
<line x1="1286.3" y1="1443.8" x2="1640.1" y2="1443.8" stroke="#333333" stroke-width="1.6" />
<line x1="1286.3" y1="1483.1" x2="1640.1" y2="1483.1" stroke="#333333" stroke-width="1.6" />
<line x1="1286.3" y1="1522.3" x2="1640.1" y2="1522.3" stroke="#333333" stroke-width="1.6" />
<line x1="1286.3" y1="1561.6" x2="1640.1" y2="1561.6" stroke="#333333" stroke-width="1.6" />
<line x1="1286.3" y1="1600.8" x2="1640.1" y2="1600.8" stroke="#333333" stroke-width="1.6" />
<line x1="1286.3" y1="1640.1" x2="1640.1" y2="1640.1" stroke="#333333" stroke-width="1.6" />
<line x1="1286.3" y1="1679.4" x2="1640.1" y2="1679.4" stroke="#333333" stroke-width="1.6" />
<line x1="1286.3" y1="1718.6" x2="1640.1" y2="1718.6" stroke="#333333" stroke-width="1.6" />
<line x1="1286.3" y1="1757.9" x2="1640.1" y2="1757.9" stroke="#333333" stroke-width="1.6" />
<line x1="1286.3" y1="1797.1" x2="1640.1" y2="1797.1" stroke="#333333" stroke-width="1.6" />
<line x1="1286.3" y1="1836.4" x2="1640.1" y2="1836.4" stroke="#333333" stroke-width="1.6" />
<line x1="1286.3" y1="1051.2" x2="1286.3" y2="1836.4" stroke="#383838" stroke-width="1.9" />
<line x1="1640.1" y1="1051.2" x2="1640.1" y2="1836.4" stroke="#383838" stroke-width="1.9" />
<rect x="1286.3" y="1005.2" width="353.8" height="46.0" fill="#D391A9" stroke="#383838" stroke-width="1.9" />
<text x="1406.0" y="1036.8" font-family="Liberation Sans, sans-serif" font-size="20.5" font-weight="bold" fill="#F6F1F6" text-anchor="start" textLength="108.2" lengthAdjust="spacingAndGlyphs" >Do it Today</text>
<text x="1290.8" y="1077.1" font-family="Liberation Sans, sans-serif" font-size="20" fill="#3F3F3F" text-anchor="start" textLength="111.3" lengthAdjust="spacingAndGlyphs" stroke="#3F3F3F" stroke-width="0.45">Fold laundry</text>
<text x="1290.9" y="1116.4" font-family="Liberation Sans, sans-serif" font-size="20" fill="#3F3F3F" text-anchor="start" textLength="143.6" lengthAdjust="spacingAndGlyphs" stroke="#3F3F3F" stroke-width="0.45">Fix garden fence</text>
<text x="1291.6" y="1155.6" font-family="Liberation Sans, sans-serif" font-size="20" fill="#3F3F3F" text-anchor="start" textLength="147.2" lengthAdjust="spacingAndGlyphs" stroke="#3F3F3F" stroke-width="0.45">Spanish lessons</text>
<rect x="1682.8" y="921.0" width="355.4" height="47.0" fill="#9E86C4" stroke="#383838" stroke-width="1.9" />
<text x="1860.5" y="953.2" font-family="Liberation Sans, sans-serif" font-size="22" font-weight="bold" fill="#F4F0F6" text-anchor="middle" >7</text>
<text x="1760.7" y="993.8" font-family="Liberation Sans, sans-serif" font-size="19" fill="#3F3F3F" text-anchor="start" textLength="198.3" lengthAdjust="spacingAndGlyphs" stroke="#3F3F3F" stroke-width="0.35">Urgent / Not Important</text>
<rect x="1682.8" y="1051.2" width="355.4" height="785.2" fill="#EAE5F2" />
<line x1="1682.8" y1="1090.5" x2="2038.2" y2="1090.5" stroke="#333333" stroke-width="1.6" />
<line x1="1682.8" y1="1129.7" x2="2038.2" y2="1129.7" stroke="#333333" stroke-width="1.6" />
<line x1="1682.8" y1="1169.0" x2="2038.2" y2="1169.0" stroke="#333333" stroke-width="1.6" />
<line x1="1682.8" y1="1208.2" x2="2038.2" y2="1208.2" stroke="#333333" stroke-width="1.6" />
<line x1="1682.8" y1="1247.5" x2="2038.2" y2="1247.5" stroke="#333333" stroke-width="1.6" />
<line x1="1682.8" y1="1286.8" x2="2038.2" y2="1286.8" stroke="#333333" stroke-width="1.6" />
<line x1="1682.8" y1="1326.0" x2="2038.2" y2="1326.0" stroke="#333333" stroke-width="1.6" />
<line x1="1682.8" y1="1365.3" x2="2038.2" y2="1365.3" stroke="#333333" stroke-width="1.6" />
<line x1="1682.8" y1="1404.5" x2="2038.2" y2="1404.5" stroke="#333333" stroke-width="1.6" />
<line x1="1682.8" y1="1443.8" x2="2038.2" y2="1443.8" stroke="#333333" stroke-width="1.6" />
<line x1="1682.8" y1="1483.1" x2="2038.2" y2="1483.1" stroke="#333333" stroke-width="1.6" />
<line x1="1682.8" y1="1522.3" x2="2038.2" y2="1522.3" stroke="#333333" stroke-width="1.6" />
<line x1="1682.8" y1="1561.6" x2="2038.2" y2="1561.6" stroke="#333333" stroke-width="1.6" />
<line x1="1682.8" y1="1600.8" x2="2038.2" y2="1600.8" stroke="#333333" stroke-width="1.6" />
<line x1="1682.8" y1="1640.1" x2="2038.2" y2="1640.1" stroke="#333333" stroke-width="1.6" />
<line x1="1682.8" y1="1679.4" x2="2038.2" y2="1679.4" stroke="#333333" stroke-width="1.6" />
<line x1="1682.8" y1="1718.6" x2="2038.2" y2="1718.6" stroke="#333333" stroke-width="1.6" />
<line x1="1682.8" y1="1757.9" x2="2038.2" y2="1757.9" stroke="#333333" stroke-width="1.6" />
<line x1="1682.8" y1="1797.1" x2="2038.2" y2="1797.1" stroke="#333333" stroke-width="1.6" />
<line x1="1682.8" y1="1836.4" x2="2038.2" y2="1836.4" stroke="#333333" stroke-width="1.6" />
<line x1="1682.8" y1="1051.2" x2="1682.8" y2="1836.4" stroke="#383838" stroke-width="1.9" />
<line x1="2038.2" y1="1051.2" x2="2038.2" y2="1836.4" stroke="#383838" stroke-width="1.9" />
<rect x="1682.8" y="1005.2" width="355.4" height="46.0" fill="#9E86C4" stroke="#383838" stroke-width="1.9" />
<text x="1813.4" y="1036.8" font-family="Liberation Sans, sans-serif" font-size="20.5" font-weight="bold" fill="#F6F1F6" text-anchor="start" textLength="88.0" lengthAdjust="spacingAndGlyphs" >Delegate</text>
<text x="1687.4" y="1077.1" font-family="Liberation Sans, sans-serif" font-size="20" fill="#3F3F3F" text-anchor="start" textLength="173.5" lengthAdjust="spacingAndGlyphs" stroke="#3F3F3F" stroke-width="0.45">Review Paperwork1</text>
<text x="1687.3" y="1116.4" font-family="Liberation Sans, sans-serif" font-size="20" fill="#3F3F3F" text-anchor="start" textLength="117.9" lengthAdjust="spacingAndGlyphs" stroke="#3F3F3F" stroke-width="0.45">Paint ktichen</text>
<text x="1688.1" y="1155.6" font-family="Liberation Sans, sans-serif" font-size="20" fill="#3F3F3F" text-anchor="start" textLength="148.2" lengthAdjust="spacingAndGlyphs" stroke="#3F3F3F" stroke-width="0.45">Organise Closed</text>
<text x="1689.0" y="1194.9" font-family="Liberation Sans, sans-serif" font-size="20" fill="#3F3F3F" text-anchor="start" textLength="161.3" lengthAdjust="spacingAndGlyphs" stroke="#3F3F3F" stroke-width="0.45">Attend weekly mtg</text>
<text x="1688.1" y="1234.1" font-family="Liberation Sans, sans-serif" font-size="20" fill="#3F3F3F" text-anchor="start" textLength="147.2" lengthAdjust="spacingAndGlyphs" stroke="#3F3F3F" stroke-width="0.45">Schedule doctor</text>
<text x="1687.4" y="1273.4" font-family="Liberation Sans, sans-serif" font-size="20" fill="#3F3F3F" text-anchor="start" textLength="112.2" lengthAdjust="spacingAndGlyphs" stroke="#3F3F3F" stroke-width="0.45">Buy Bday gift</text>
<text x="1687.4" y="1312.7" font-family="Liberation Sans, sans-serif" font-size="20" fill="#3F3F3F" text-anchor="start" textLength="112.2" lengthAdjust="spacingAndGlyphs" stroke="#3F3F3F" stroke-width="0.45">Buy Bday gift</text>
<rect x="2077.7" y="921.0" width="354.4" height="47.0" fill="#A6B795" stroke="#383838" stroke-width="1.9" />
<text x="2254.9" y="953.2" font-family="Liberation Sans, sans-serif" font-size="22" font-weight="bold" fill="#F4F0F6" text-anchor="middle" >4</text>
<text x="2154.9" y="993.8" font-family="Liberation Sans, sans-serif" font-size="19" fill="#3F3F3F" text-anchor="start" textLength="198.6" lengthAdjust="spacingAndGlyphs" stroke="#3F3F3F" stroke-width="0.35">Not Urgent / Important</text>
<rect x="2077.7" y="1051.2" width="354.4" height="785.2" fill="#ECEEE9" />
<line x1="2077.7" y1="1090.5" x2="2432.1" y2="1090.5" stroke="#333333" stroke-width="1.6" />
<line x1="2077.7" y1="1129.7" x2="2432.1" y2="1129.7" stroke="#333333" stroke-width="1.6" />
<line x1="2077.7" y1="1169.0" x2="2432.1" y2="1169.0" stroke="#333333" stroke-width="1.6" />
<line x1="2077.7" y1="1208.2" x2="2432.1" y2="1208.2" stroke="#333333" stroke-width="1.6" />
<line x1="2077.7" y1="1247.5" x2="2432.1" y2="1247.5" stroke="#333333" stroke-width="1.6" />
<line x1="2077.7" y1="1286.8" x2="2432.1" y2="1286.8" stroke="#333333" stroke-width="1.6" />
<line x1="2077.7" y1="1326.0" x2="2432.1" y2="1326.0" stroke="#333333" stroke-width="1.6" />
<line x1="2077.7" y1="1365.3" x2="2432.1" y2="1365.3" stroke="#333333" stroke-width="1.6" />
<line x1="2077.7" y1="1404.5" x2="2432.1" y2="1404.5" stroke="#333333" stroke-width="1.6" />
<line x1="2077.7" y1="1443.8" x2="2432.1" y2="1443.8" stroke="#333333" stroke-width="1.6" />
<line x1="2077.7" y1="1483.1" x2="2432.1" y2="1483.1" stroke="#333333" stroke-width="1.6" />
<line x1="2077.7" y1="1522.3" x2="2432.1" y2="1522.3" stroke="#333333" stroke-width="1.6" />
<line x1="2077.7" y1="1561.6" x2="2432.1" y2="1561.6" stroke="#333333" stroke-width="1.6" />
<line x1="2077.7" y1="1600.8" x2="2432.1" y2="1600.8" stroke="#333333" stroke-width="1.6" />
<line x1="2077.7" y1="1640.1" x2="2432.1" y2="1640.1" stroke="#333333" stroke-width="1.6" />
<line x1="2077.7" y1="1679.4" x2="2432.1" y2="1679.4" stroke="#333333" stroke-width="1.6" />
<line x1="2077.7" y1="1718.6" x2="2432.1" y2="1718.6" stroke="#333333" stroke-width="1.6" />
<line x1="2077.7" y1="1757.9" x2="2432.1" y2="1757.9" stroke="#333333" stroke-width="1.6" />
<line x1="2077.7" y1="1797.1" x2="2432.1" y2="1797.1" stroke="#333333" stroke-width="1.6" />
<line x1="2077.7" y1="1836.4" x2="2432.1" y2="1836.4" stroke="#333333" stroke-width="1.6" />
<line x1="2077.7" y1="1051.2" x2="2077.7" y2="1836.4" stroke="#383838" stroke-width="1.9" />
<line x1="2432.1" y1="1051.2" x2="2432.1" y2="1836.4" stroke="#383838" stroke-width="1.9" />
<rect x="2077.7" y="1005.2" width="354.4" height="46.0" fill="#A6B795" stroke="#383838" stroke-width="1.9" />
<text x="2207.3" y="1036.8" font-family="Liberation Sans, sans-serif" font-size="20.5" font-weight="bold" fill="#F6F1F6" text-anchor="start" textLength="92.4" lengthAdjust="spacingAndGlyphs" >Schedule</text>
<text x="2082.3" y="1077.1" font-family="Liberation Sans, sans-serif" font-size="20" fill="#3F3F3F" text-anchor="start" textLength="132.6" lengthAdjust="spacingAndGlyphs" stroke="#3F3F3F" stroke-width="0.45">Renew all subs</text>
<text x="2082.3" y="1116.4" font-family="Liberation Sans, sans-serif" font-size="20" fill="#3F3F3F" text-anchor="start" textLength="143.6" lengthAdjust="spacingAndGlyphs" stroke="#3F3F3F" stroke-width="0.45">Fix garden fence</text>
<text x="2082.9" y="1155.6" font-family="Liberation Sans, sans-serif" font-size="20" fill="#3F3F3F" text-anchor="start" textLength="85.9" lengthAdjust="spacingAndGlyphs" stroke="#3F3F3F" stroke-width="0.45">Groceries</text>
<text x="2083.8" y="1194.9" font-family="Liberation Sans, sans-serif" font-size="20" fill="#3F3F3F" text-anchor="start" textLength="112.2" lengthAdjust="spacingAndGlyphs" stroke="#3F3F3F" stroke-width="0.45">Water Plants</text>
<rect x="2464.9" y="921.0" width="354.1" height="47.0" fill="#7E9EC8" stroke="#383838" stroke-width="1.9" />
<text x="2641.9" y="953.2" font-family="Liberation Sans, sans-serif" font-size="22" font-weight="bold" fill="#F4F0F6" text-anchor="middle" >1</text>
<text x="2524.9" y="993.8" font-family="Liberation Sans, sans-serif" font-size="19" fill="#3F3F3F" text-anchor="start" textLength="232.6" lengthAdjust="spacingAndGlyphs" stroke="#3F3F3F" stroke-width="0.35">Not Urgent / Not Important</text>
<rect x="2464.9" y="1051.2" width="354.1" height="785.2" fill="#E5E9F2" />
<line x1="2464.9" y1="1090.5" x2="2819.0" y2="1090.5" stroke="#333333" stroke-width="1.6" />
<line x1="2464.9" y1="1129.7" x2="2819.0" y2="1129.7" stroke="#333333" stroke-width="1.6" />
<line x1="2464.9" y1="1169.0" x2="2819.0" y2="1169.0" stroke="#333333" stroke-width="1.6" />
<line x1="2464.9" y1="1208.2" x2="2819.0" y2="1208.2" stroke="#333333" stroke-width="1.6" />
<line x1="2464.9" y1="1247.5" x2="2819.0" y2="1247.5" stroke="#333333" stroke-width="1.6" />
<line x1="2464.9" y1="1286.8" x2="2819.0" y2="1286.8" stroke="#333333" stroke-width="1.6" />
<line x1="2464.9" y1="1326.0" x2="2819.0" y2="1326.0" stroke="#333333" stroke-width="1.6" />
<line x1="2464.9" y1="1365.3" x2="2819.0" y2="1365.3" stroke="#333333" stroke-width="1.6" />
<line x1="2464.9" y1="1404.5" x2="2819.0" y2="1404.5" stroke="#333333" stroke-width="1.6" />
<line x1="2464.9" y1="1443.8" x2="2819.0" y2="1443.8" stroke="#333333" stroke-width="1.6" />
<line x1="2464.9" y1="1483.1" x2="2819.0" y2="1483.1" stroke="#333333" stroke-width="1.6" />
<line x1="2464.9" y1="1522.3" x2="2819.0" y2="1522.3" stroke="#333333" stroke-width="1.6" />
<line x1="2464.9" y1="1561.6" x2="2819.0" y2="1561.6" stroke="#333333" stroke-width="1.6" />
<line x1="2464.9" y1="1600.8" x2="2819.0" y2="1600.8" stroke="#333333" stroke-width="1.6" />
<line x1="2464.9" y1="1640.1" x2="2819.0" y2="1640.1" stroke="#333333" stroke-width="1.6" />
<line x1="2464.9" y1="1679.4" x2="2819.0" y2="1679.4" stroke="#333333" stroke-width="1.6" />
<line x1="2464.9" y1="1718.6" x2="2819.0" y2="1718.6" stroke="#333333" stroke-width="1.6" />
<line x1="2464.9" y1="1757.9" x2="2819.0" y2="1757.9" stroke="#333333" stroke-width="1.6" />
<line x1="2464.9" y1="1797.1" x2="2819.0" y2="1797.1" stroke="#333333" stroke-width="1.6" />
<line x1="2464.9" y1="1836.4" x2="2819.0" y2="1836.4" stroke="#333333" stroke-width="1.6" />
<line x1="2464.9" y1="1051.2" x2="2464.9" y2="1836.4" stroke="#383838" stroke-width="1.9" />
<line x1="2819.0" y1="1051.2" x2="2819.0" y2="1836.4" stroke="#383838" stroke-width="1.9" />
<rect x="2464.9" y="1005.2" width="354.1" height="46.0" fill="#7E9EC8" stroke="#383838" stroke-width="1.9" />
<text x="2607.3" y="1036.8" font-family="Liberation Sans, sans-serif" font-size="20.5" font-weight="bold" fill="#F6F1F6" text-anchor="start" textLength="65.9" lengthAdjust="spacingAndGlyphs" >Delete</text>
<text x="2470.2" y="1077.1" font-family="Liberation Sans, sans-serif" font-size="20" fill="#3F3F3F" text-anchor="start" textLength="147.2" lengthAdjust="spacingAndGlyphs" stroke="#3F3F3F" stroke-width="0.45">Spanish lessons</text>
<rect x="1299.2" y="557.3" width="325.0" height="45.4" fill="url(#gY)" stroke="#E8C468" stroke-width="1.6" />
<text x="1401.1" y="586.0" font-family="Liberation Sans, sans-serif" font-size="21" fill="#3A331F" text-anchor="start" textLength="120.3" lengthAdjust="spacingAndGlyphs" stroke="#3A331F" stroke-width="0.35">Active totals</text>
<rect x="1700.0" y="557.3" width="324.4" height="45.4" fill="url(#gY)" stroke="#E8C468" stroke-width="1.6" />
<text x="1803.8" y="586.0" font-family="Liberation Sans, sans-serif" font-size="21" fill="#3A331F" text-anchor="start" textLength="115.1" lengthAdjust="spacingAndGlyphs" stroke="#3A331F" stroke-width="0.35">Active Ratio</text>
<rect x="2109.2" y="557.3" width="326.2" height="45.4" fill="url(#gY)" stroke="#E8C468" stroke-width="1.6" />
<text x="2186.2" y="586.0" font-family="Liberation Sans, sans-serif" font-size="21" fill="#3A331F" text-anchor="start" textLength="171.3" lengthAdjust="spacingAndGlyphs" stroke="#3A331F" stroke-width="0.35">Completed totals</text>
<rect x="2479.9" y="557.3" width="325.1" height="45.4" fill="url(#gY)" stroke="#E8C468" stroke-width="1.6" />
<text x="2541.1" y="586.0" font-family="Liberation Sans, sans-serif" font-size="21" fill="#3A331F" text-anchor="start" textLength="202.7" lengthAdjust="spacingAndGlyphs" stroke="#3A331F" stroke-width="0.35">Completed vs Active</text>
<line x1="1289.4" y1="848.4" x2="1625.3" y2="848.4" stroke="#D4D4D4" stroke-width="1.6" />
<rect x="1310.9" y="758.4" width="42.1" height="89.4" fill="url(#gP)" />
<text x="1332.0" y="742.6" font-family="Liberation Sans, sans-serif" font-size="17.5" font-weight="bold" fill="#4C4C4C" text-anchor="middle" >3</text>
<rect x="1394.8" y="640.5" width="42.4" height="207.3" fill="url(#gU)" />
<text x="1416.0" y="624.7" font-family="Liberation Sans, sans-serif" font-size="17.5" font-weight="bold" fill="#4C4C4C" text-anchor="middle" >7</text>
<rect x="1478.9" y="729.4" width="41.6" height="118.4" fill="url(#gG)" />
<text x="1499.7" y="713.6" font-family="Liberation Sans, sans-serif" font-size="17.5" font-weight="bold" fill="#4C4C4C" text-anchor="middle" >4</text>
<rect x="1562.1" y="818.1" width="42.2" height="29.7" fill="url(#gB)" />
<text x="1583.2" y="802.3" font-family="Liberation Sans, sans-serif" font-size="17.5" font-weight="bold" fill="#4C4C4C" text-anchor="middle" >1</text>
<text x="1290.3" y="876.2" font-family="Liberation Sans, sans-serif" font-size="16.3" fill="#727272" text-anchor="start" textLength="82.5" lengthAdjust="spacingAndGlyphs" stroke="#727272" stroke-width="0.3">Do it Today</text>
<text x="1382.3" y="876.2" font-family="Liberation Sans, sans-serif" font-size="16.3" fill="#727272" text-anchor="start" textLength="65.7" lengthAdjust="spacingAndGlyphs" stroke="#727272" stroke-width="0.3">Delegate</text>
<text x="1464.5" y="876.2" font-family="Liberation Sans, sans-serif" font-size="16.3" fill="#727272" text-anchor="start" textLength="69.3" lengthAdjust="spacingAndGlyphs" stroke="#727272" stroke-width="0.3">Schedule</text>
<text x="1558.3" y="876.2" font-family="Liberation Sans, sans-serif" font-size="16.3" fill="#727272" text-anchor="start" textLength="48.8" lengthAdjust="spacingAndGlyphs" stroke="#727272" stroke-width="0.3">Delete</text>
<line x1="2090.8" y1="851.6" x2="2423.5" y2="851.6" stroke="#D4D4D4" stroke-width="1.6" />
<rect x="2110.4" y="784.7" width="41.0" height="66.3" fill="url(#lP)" stroke="#D6A5B8" stroke-width="1.2" />
<text x="2130.9" y="768.3" font-family="Liberation Sans, sans-serif" font-size="17.5" font-weight="bold" fill="#4A4A4A" text-anchor="middle" >1</text>
<rect x="2194.2" y="784.7" width="43.1" height="66.3" fill="url(#lU)" stroke="#AE9ACB" stroke-width="1.2" />
<text x="2215.8" y="768.3" font-family="Liberation Sans, sans-serif" font-size="17.5" font-weight="bold" fill="#4A4A4A" text-anchor="middle" >1</text>
<rect x="2278.0" y="648.0" width="41.9" height="203.0" fill="url(#lG)" stroke="#B3C1A5" stroke-width="1.2" />
<text x="2298.9" y="631.6" font-family="Liberation Sans, sans-serif" font-size="17.5" font-weight="bold" fill="#4A4A4A" text-anchor="middle" >3</text>
<rect x="2360.9" y="648.0" width="43.1" height="203.0" fill="url(#lB)" stroke="#9BB2D3" stroke-width="1.2" />
<text x="2382.4" y="631.6" font-family="Liberation Sans, sans-serif" font-size="17.5" font-weight="bold" fill="#4A4A4A" text-anchor="middle" >3</text>
<text x="2089.9" y="880.8" font-family="Liberation Sans, sans-serif" font-size="16.3" fill="#727272" text-anchor="start" textLength="81.5" lengthAdjust="spacingAndGlyphs" stroke="#727272" stroke-width="0.3">Do it Today</text>
<text x="2180.8" y="880.8" font-family="Liberation Sans, sans-serif" font-size="16.3" fill="#727272" text-anchor="start" textLength="66.2" lengthAdjust="spacingAndGlyphs" stroke="#727272" stroke-width="0.3">Delegate</text>
<text x="2263.7" y="880.8" font-family="Liberation Sans, sans-serif" font-size="16.3" fill="#727272" text-anchor="start" textLength="69.3" lengthAdjust="spacingAndGlyphs" stroke="#727272" stroke-width="0.3">Schedule</text>
<text x="2357.1" y="880.8" font-family="Liberation Sans, sans-serif" font-size="16.3" fill="#727272" text-anchor="start" textLength="50.1" lengthAdjust="spacingAndGlyphs" stroke="#727272" stroke-width="0.3">Delete</text>
<path d="M1860.50,654.80 A103,103 0 0 1 1958.46,725.97 L1910.43,741.58 A52.5,52.5 0 0 0 1860.50,705.30 Z" fill="url(#gP)" stroke="#fff" stroke-width="2.6" stroke-linejoin="round"/>
<path d="M1958.46,725.97 A103,103 0 0 1 1771.30,809.30 L1815.03,784.05 A52.5,52.5 0 0 0 1910.43,741.58 Z" fill="url(#gU)" stroke="#fff" stroke-width="2.6" stroke-linejoin="round"/>
<path d="M1771.30,809.30 A103,103 0 0 1 1818.61,663.70 L1839.15,709.84 A52.5,52.5 0 0 0 1815.03,784.05 Z" fill="url(#gG)" stroke="#fff" stroke-width="2.6" stroke-linejoin="round"/>
<path d="M1818.61,663.70 A103,103 0 0 1 1860.50,654.80 L1860.50,705.30 A52.5,52.5 0 0 0 1839.15,709.84 Z" fill="url(#gB)" stroke="#fff" stroke-width="2.6" stroke-linejoin="round"/>
<path d="M2636.80,645.00 A101.8,101.8 0 0 1 2711.20,677.32 L2674.80,711.31 A52,52 0 0 0 2636.80,694.80 Z" fill="url(#gP)" stroke="#fff" stroke-width="2.6" stroke-linejoin="round"/>
<path d="M2711.20,677.32 A101.8,101.8 0 0 1 2677.36,840.17 L2657.52,794.49 A52,52 0 0 0 2674.80,711.31 Z" fill="url(#gU)" stroke="#fff" stroke-width="2.6" stroke-linejoin="round"/>
<path d="M2677.36,840.17 A101.8,101.8 0 0 1 2572.56,825.77 L2603.98,787.14 A52,52 0 0 0 2657.52,794.49 Z" fill="url(#gG)" stroke="#fff" stroke-width="2.6" stroke-linejoin="round"/>
<path d="M2572.56,825.77 A101.8,101.8 0 0 1 2553.63,805.51 L2594.32,776.79 A52,52 0 0 0 2603.98,787.14 Z" fill="url(#gB)" stroke="#fff" stroke-width="2.6" stroke-linejoin="round"/>
<path d="M2553.63,805.51 A101.8,101.8 0 0 1 2636.80,645.00 L2636.80,694.80 A52,52 0 0 0 2594.32,776.79 Z" fill="url(#gGr)" stroke="#fff" stroke-width="2.6" stroke-linejoin="round"/>
<polyline points="1792.8,656.7 1801.0,656.7 1844.3,682.3" fill="none" stroke="#A8A8A8" stroke-width="1.3"/>
<polyline points="1730.4,714.5 1738.6,714.5 1784.7,734.8" fill="none" stroke="#A8A8A8" stroke-width="1.3"/>
<polyline points="1936.6,860.5 1928.4,860.5 1892.3,829.7" fill="none" stroke="#A8A8A8" stroke-width="1.3"/>
<polyline points="2516.1,668.1 2524.8,668.1 2549.8,692.0" fill="none" stroke="#A8A8A8" stroke-width="1.3"/>
<polyline points="2571.5,865.0 2579.7,865.0 2581.9,800.5" fill="none" stroke="#A8A8A8" stroke-width="1.3"/>
<text x="1941.8" y="657.4" font-family="Liberation Sans, sans-serif" font-size="15.6" font-weight="bold" fill="#595959" text-anchor="start" textLength="35.6" lengthAdjust="spacingAndGlyphs" >Do it</text>
<text x="1939.1" y="678.7" font-family="Liberation Sans, sans-serif" font-size="15.6" font-weight="bold" fill="#595959" text-anchor="start" textLength="43.3" lengthAdjust="spacingAndGlyphs" >Today</text>
<text x="1943.2" y="865.3" font-family="Liberation Sans, sans-serif" font-size="15.6" font-weight="bold" fill="#595959" text-anchor="start" textLength="68.0" lengthAdjust="spacingAndGlyphs" >Delegate</text>
<text x="1651.9" y="719.9" font-family="Liberation Sans, sans-serif" font-size="15.6" font-weight="bold" fill="#595959" text-anchor="start" textLength="71.0" lengthAdjust="spacingAndGlyphs" >Schedule</text>
<text x="1735.6" y="662.4" font-family="Liberation Sans, sans-serif" font-size="15.6" font-weight="bold" fill="#595959" text-anchor="start" textLength="50.2" lengthAdjust="spacingAndGlyphs" >Delete</text>
<text x="2424.9" y="674.2" font-family="Liberation Sans, sans-serif" font-size="15.6" font-weight="bold" fill="#595959" text-anchor="start" textLength="85.2" lengthAdjust="spacingAndGlyphs" >Completed</text>
<text x="2513.9" y="871.0" font-family="Liberation Sans, sans-serif" font-size="15.6" font-weight="bold" fill="#595959" text-anchor="start" textLength="49.9" lengthAdjust="spacingAndGlyphs" >Delete</text>
<text x="2661.5" y="857.0" font-family="Liberation Sans, sans-serif" font-size="15.6" font-weight="bold" fill="#595959" text-anchor="start" textLength="64.5" lengthAdjust="spacingAndGlyphs" >Schedule</text>
<text x="2667.3" y="627.9" font-family="Liberation Sans, sans-serif" font-size="15.6" font-weight="bold" fill="#595959" text-anchor="start" textLength="32.2" lengthAdjust="spacingAndGlyphs" >Do it</text>
</svg>
</div>
</body></html>
